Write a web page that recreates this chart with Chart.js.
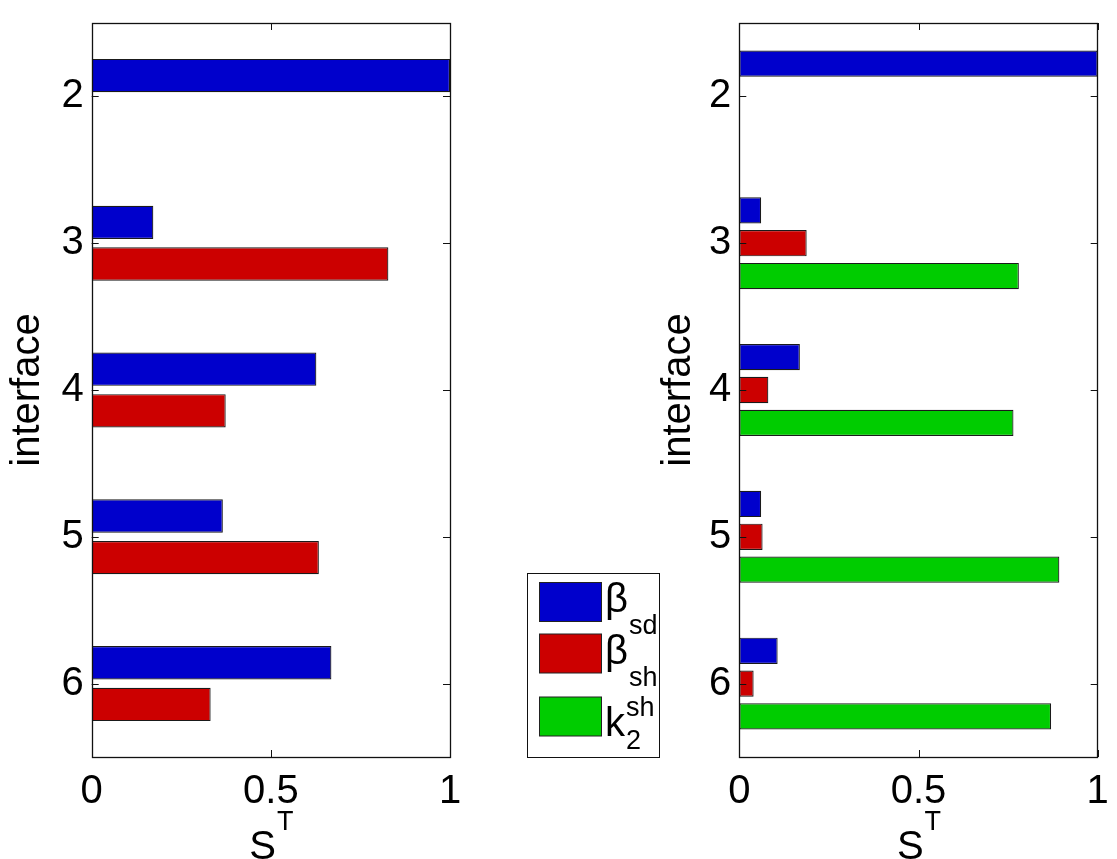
<!DOCTYPE html>
<html>
<head>
<meta charset="utf-8">
<script src="https://cdn.jsdelivr.net/npm/chart.js@4.4.0/dist/chart.umd.min.js"></script>
<style>
  body { margin: 0; background: #fff; }
  #wrap { position: relative; width: 1117px; height: 859px; overflow: hidden; }
  canvas { position: absolute; top: 0; }
  #leftChart { left: 0; }
  #rightChart { left: 620px; }
</style>
</head>
<body>
<div id="wrap">
  <canvas id="leftChart" width="680" height="859"></canvas>
  <canvas id="rightChart" width="497" height="859"></canvas>
</div>
<script>
// data
const interfaces = ['2', '3', '4', '5', '6'];
const xTicks = [0, 0.5, 1];

const leftBetaSd = [1, 0.172, 0.627, 0.366, 0.669];
const leftBetaSh = [0, 0.828, 0.374, 0.634, 0.332];

const rightBetaSd = [1, 0.061, 0.169, 0.061, 0.107];
const rightBetaSh = [0, 0.188, 0.081, 0.065, 0.040];
const rightK2sh = [0, 0.780, 0.765, 0.893, 0.870];

// legend text: main symbol, subscript, superscript
const seriesMain = ['β', 'β', 'k'];
const seriesSub = ['sd', 'sh', '2'];
const seriesSup = ['', '', 'sh'];
const seriesColors = ['#0000cc', '#cc0000', '#00cc00'];

const FONT = 'Liberation Sans, Arial, Helvetica, sans-serif';
Chart.defaults.font.family = FONT;
Chart.defaults.color = '#000';

// box round the plot + matlab style inward ticks
const framePlugin = {
  id: 'frame',
  afterDraw(chart) {
    const ctx = chart.ctx;
    const a = chart.chartArea;
    const xs = chart.scales.x, ys = chart.scales.y;
    ctx.save();
    ctx.strokeStyle = '#111';
    ctx.lineWidth = 1;
    ctx.beginPath();
    ys.ticks.forEach((t, i) => {
      const y = Math.round(ys.getPixelForTick(i)) + 0.5;
      ctx.moveTo(a.left, y); ctx.lineTo(a.left + 7, y);
      ctx.moveTo(a.right, y); ctx.lineTo(a.right - 7, y);
    });
    xs.ticks.forEach((t, i) => {
      const x = Math.round(xs.getPixelForTick(i)) + 0.5;
      ctx.moveTo(x, a.bottom); ctx.lineTo(x, a.bottom - 7);
      ctx.moveTo(x, a.top); ctx.lineTo(x, a.top + 7);
    });
    ctx.stroke();
    ctx.lineWidth = 1.3;
    ctx.strokeRect(Math.round(a.left) + 0.5, Math.round(a.top) + 0.5,
      Math.round(a.right - a.left), Math.round(a.bottom - a.top));
    ctx.restore();
  }
};

// x axis title S^T
const xTitlePlugin = {
  id: 'xTitle',
  afterDraw(chart) {
    const ctx = chart.ctx;
    const a = chart.chartArea;
    ctx.save();
    ctx.fillStyle = '#000';
    ctx.textBaseline = 'alphabetic';
    ctx.font = '40px ' + FONT;
    const wS = ctx.measureText('S').width;
    ctx.font = '27px ' + FONT;
    const wT = ctx.measureText('T').width;
    const x0 = (a.left + a.right) / 2 - (wS + wT) / 2;
    ctx.font = '40px ' + FONT;
    ctx.fillText('S', x0, a.bottom + 102);
    ctx.font = '27px ' + FONT;
    ctx.fillText('T', x0 + wS + 1, a.bottom + 73);
    ctx.restore();
  }
};

// legend box between the two plots
const legendBox = { x: 527, y: 573, w: 132, h: 184 };
const legendSwatchTop = [582.5, 634, 697];
const legendBase = [612, 664, 736];

const legendPlugin = {
  id: 'sideLegend',
  afterDraw(chart) {
    const ctx = chart.ctx;
    ctx.save();
    ctx.fillStyle = '#fff';
    ctx.fillRect(legendBox.x, legendBox.y, legendBox.w, legendBox.h);
    ctx.strokeStyle = '#111';
    ctx.lineWidth = 1;
    ctx.strokeRect(legendBox.x + 0.5, legendBox.y + 0.5, legendBox.w, legendBox.h);
    seriesMain.forEach((m, i) => {
      ctx.fillStyle = seriesColors[i];
      ctx.fillRect(539.5, legendSwatchTop[i], 62, 39);
      ctx.strokeStyle = '#222';
      ctx.strokeRect(539.5, legendSwatchTop[i], 62, 39);
      ctx.fillStyle = '#000';
      ctx.font = '40px ' + FONT;
      const tx = 605;
      const base = legendBase[i];
      ctx.fillText(m, tx, base);
      const w = ctx.measureText(m).width;
      ctx.font = '27px ' + FONT;
      if (seriesSup[i]) {
        ctx.fillText(seriesSup[i], tx + w + 1, base - 20);
        ctx.fillText(seriesSub[i], tx + w + 1, base + 13);
      } else {
        ctx.fillText(seriesSub[i], tx + w + 1, base + 22);
      }
    });
    ctx.restore();
  }
};

function makeDataset(label, data, color, catPct) {
  return {
    label: label,
    data: data,
    backgroundColor: color,
    borderColor: '#1a1a1a',
    borderWidth: c => (c.raw ? 1.2 : 0),
    borderSkipped: false,
    barPercentage: 0.8,
    categoryPercentage: catPct
  };
}

function makeChart(id, datasets, yWidth, titlePad, rightPad, extraPlugins) {
  return new Chart(document.getElementById(id), {
    type: 'bar',
    data: { labels: interfaces, datasets: datasets },
    options: {
      indexAxis: 'y',
      responsive: false,
      animation: false,
      layout: { padding: { top: 23, right: rightPad, left: 0, bottom: 0 } },
      plugins: { legend: { display: false }, tooltip: { enabled: false } },
      scales: {
        x: {
          type: 'linear',
          min: 0,
          max: 1,
          afterBuildTicks: s => { s.ticks = xTicks.map(v => ({ value: v })); },
          ticks: { font: { size: 40 }, padding: 11, maxRotation: 0, autoSkip: false,
                   callback: v => String(v) },
          grid: { display: false, drawTicks: false },
          border: { display: false },
          afterFit: s => { s.height = 102; s.paddingLeft = 0; s.paddingRight = 0; }
        },
        y: {
          ticks: { font: { size: 40 }, padding: 8 },
          grid: { display: false, drawTicks: false },
          border: { display: false },
          title: { display: true, text: 'interface', font: { size: 40 },
                   padding: { top: titlePad, bottom: 0 } },
          afterFit: s => { s.width = yWidth; s.paddingTop = 0; s.paddingBottom = 0; }
        }
      }
    },
    plugins: [framePlugin, xTitlePlugin].concat(extraPlugins)
  });
}

makeChart('leftChart', [
  makeDataset('β_sd', leftBetaSd, seriesColors[0], 0.568),
  makeDataset('β_sh', leftBetaSh, seriesColors[1], 0.568)
], 91.7, 4, 230, [legendPlugin]);

makeChart('rightChart', [
  makeDataset('β_sd', rightBetaSd, seriesColors[0], 0.671),
  makeDataset('β_sh', rightBetaSh, seriesColors[1], 0.671),
  makeDataset('k_2^sh', rightK2sh, seriesColors[2], 0.671)
], 119.3, 35, 19.3, []);
</script>
</body>
</html>
